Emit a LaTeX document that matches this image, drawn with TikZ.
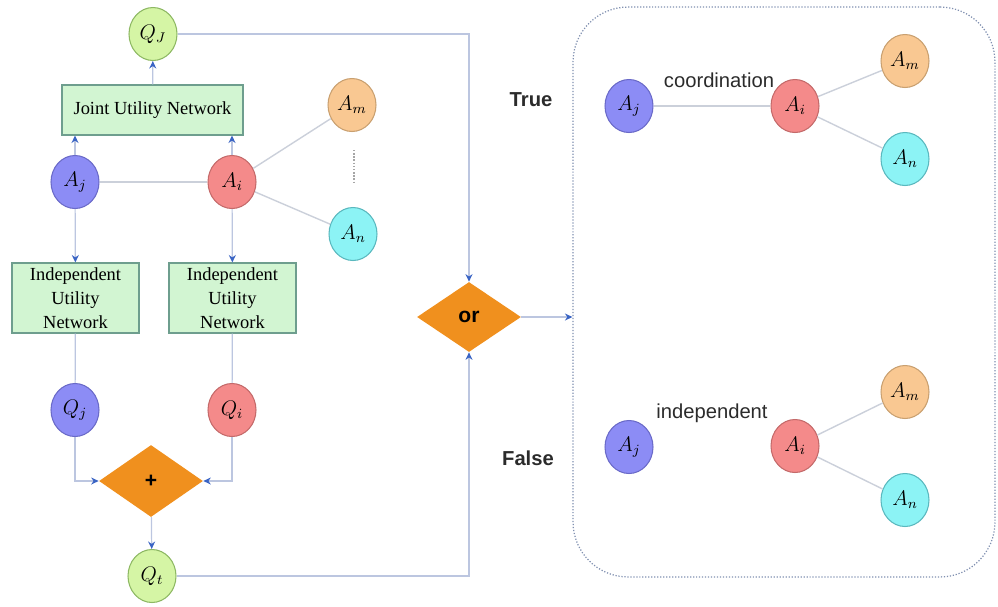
\documentclass[tikz,border=0pt]{standalone}
\usepackage{fontspec}
\setmainfont{Liberation Serif}
\setsansfont{Liberation Sans}
\usepackage{tikz}
\usetikzlibrary{arrows.meta,shapes.geometric}
\definecolor{cline}{HTML}{BCC6E0}
\definecolor{clink}{HTML}{CBD0DA}
\definecolor{ctip}{HTML}{3A64C4}
\definecolor{cmint}{HTML}{D2F5D2}
\definecolor{cmintd}{HTML}{6E9E8E}
\definecolor{clime}{HTML}{D5F5A5}
\definecolor{climed}{HTML}{8DB863}
\definecolor{cblue}{HTML}{8C8CF5}
\definecolor{cblued}{HTML}{6A6AC8}
\definecolor{cred}{HTML}{F48A8A}
\definecolor{credd}{HTML}{C46A6A}
\definecolor{camber}{HTML}{F9C892}
\definecolor{camberd}{HTML}{C9A070}
\definecolor{ccyan}{HTML}{8CF3F5}
\definecolor{ccyand}{HTML}{5AB8BE}
\definecolor{corange}{HTML}{F0901E}
\definecolor{cframe}{HTML}{8090B0}
\definecolor{cink}{HTML}{2B2B2B}
\tikzset{
  >={Stealth[length=1.5mm,width=1.4mm,color=ctip]},
  agent/.style={ellipse,inner sep=0pt,minimum width=0.96cm,minimum height=1.06cm,line width=0.6pt,font=\fontsize{12}{14}\selectfont},
  lime/.style={agent,fill=clime,draw=climed},
  blueag/.style={agent,fill=cblue,draw=cblued},
  redag/.style={agent,fill=cred,draw=credd},
  amberag/.style={agent,fill=camber,draw=camberd},
  cyanag/.style={agent,fill=ccyan,draw=ccyand},
  netbox/.style={rectangle,fill=cmint,draw=cmintd,line width=0.6pt,inner sep=1pt,align=center,
    font=\fontsize{10.5}{13.5}\selectfont},
  gate/.style={diamond,fill=corange,inner sep=0pt,font=\sffamily\bfseries\fontsize{12}{14}\selectfont},
  flow/.style={cline,line width=0.7pt},
  link/.style={clink,line width=0.8pt},
  tag/.style={font=\sffamily\fontsize{11.5}{14}\selectfont,text=cink},
  verdict/.style={font=\sffamily\bfseries\fontsize{11.5}{14}\selectfont,text=cink}
}

\begin{document}
\begin{tikzpicture}[x=0.02cm,y=-0.02cm]
\useasboundingbox (0,0) rectangle (998,606);

% ============ left: utility networks ============
\node[lime] (qjoint) at (153,34) {$Q_J$};
\node[netbox,minimum width=3.62cm,minimum height=1cm] (jun) at (152.5,110) {Joint Utility Network};
\node[blueag] (aj) at (75,182) {$A_j$};
\node[redag] (ai) at (232,182) {$A_i$};
\node[amberag] (am) at (352,105) {$A_m$};
\node[cyanag] (an) at (353,234) {$A_n$};
\coordinate (dtop) at (354,150);
\coordinate (dbot) at (354,182);
\draw[gray!70,densely dotted,line width=0.8pt] (dtop) -- (dbot);
\draw[link] (aj) -- (ai);
\draw[link] (ai) -- (am);
\draw[link] (ai) -- (an);
\draw[flow,->] (aj) -- (aj |- jun.south);
\draw[flow,->] (ai) -- (ai |- jun.south);
\draw[flow,->] (jun) -- (qjoint);

\node[netbox,minimum width=2.54cm,minimum height=1.4cm] (iunj) at (75.5,298) {Independent\\Utility\\Network};
\node[netbox,minimum width=2.54cm,minimum height=1.4cm] (iuni) at (232.5,298) {Independent\\Utility\\Network};
\draw[flow,->] (aj) -- (iunj);
\draw[flow,->] (ai) -- (iuni);
\node[blueag] (qj) at (75,410) {$Q_j$};
\node[redag] (qi) at (232,410) {$Q_i$};
\draw[flow] (iunj) -- (qj);
\draw[flow] (iuni) -- (qi);

% sum of the independent utilities
\node[gate,minimum width=2.08cm,minimum height=1.44cm] (plus) at (151,481) {+};
\draw[flow,->] (qj.south) |- (plus.west);
\draw[flow,->] (qi.south) |- (plus.east);
\node[lime] (qt) at (152,576) {$Q_t$};
\draw[flow,->] (plus) -- (qt);

% ============ decision ============
\node[gate,minimum width=2.08cm,minimum height=1.4cm] (or) at (469,317) {or};
\draw[flow,->] (qjoint.east) -| (or.north);
\draw[flow,->] (qt.east) -| (or.south);

% ============ right: outcome panel ============
\node[rectangle,rounded corners=1.1cm,draw=cframe,densely dotted,line width=0.7pt,
  minimum width=8.44cm,minimum height=11.4cm] (panel) at (784,292) {};
\draw[flow,->] (or.east) -- (or.east -| panel.west);
\node[verdict] (true) at (531,100) {True};
\node[verdict] (false) at (528,458) {False};

\node[blueag] (taj) at (629,106) {$A_j$};
\node[redag] (tai) at (795,106) {$A_i$};
\node[amberag] (tam) at (905,61) {$A_m$};
\node[cyanag] (tan) at (905,159) {$A_n$};
\draw[link] (taj) -- (tai);
\draw[link] (tai) -- (tam);
\draw[link] (tai) -- (tan);
\node[tag] (coord) at (719,80) {coordination};

\node[blueag] (faj) at (629,447) {$A_j$};
\node[redag] (fai) at (795,446) {$A_i$};
\node[amberag] (fam) at (905,392) {$A_m$};
\node[cyanag] (fan) at (905,500) {$A_n$};
\draw[link] (fai) -- (fam);
\draw[link] (fai) -- (fan);
\node[tag] (indep) at (712,413) {independent};

\end{tikzpicture}
\end{document}
